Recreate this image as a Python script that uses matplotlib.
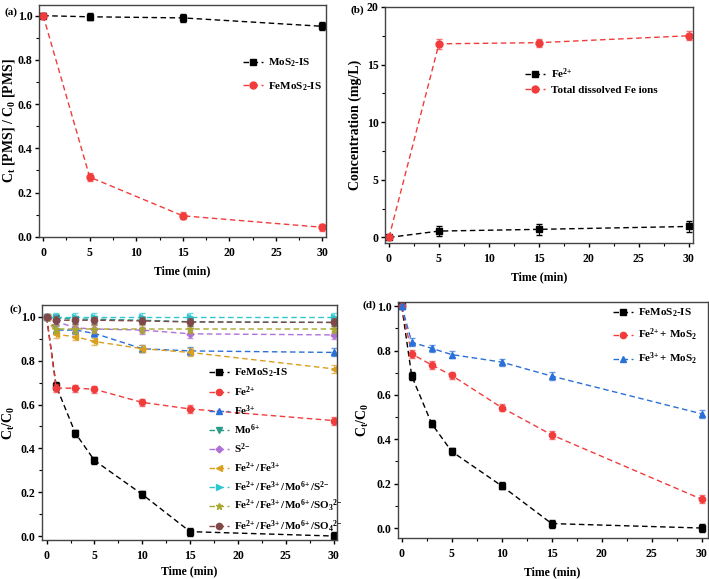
import matplotlib
matplotlib.use("Agg")
from matplotlib import pyplot as plt
from matplotlib.ticker import MultipleLocator

plt.rcParams['font.family'] = 'Liberation Serif'
plt.rcParams['font.weight'] = 'bold'
plt.rcParams['axes.labelweight'] = 'bold'
plt.rcParams['mathtext.fontset'] = 'custom'
plt.rcParams['mathtext.rm'] = 'Liberation Serif:bold'
plt.rcParams['mathtext.it'] = 'Liberation Serif:bold'
plt.rcParams['mathtext.bf'] = 'Liberation Serif:bold'
plt.rcParams['font.size'] = 10

# ---- data ----
t_a = [0, 5, 15, 30]
mos2_is = [1.0, 0.995, 0.99, 0.952]
mos2_is_err = [0.01, 0.015, 0.018, 0.018]
femos2_is_a = [1.0, 0.27, 0.095, 0.043]
femos2_is_a_err = [0.01, 0.018, 0.016, 0.016]

t_b = [0, 5, 15, 30]
fe2_conc = [0.0, 0.55, 0.7, 0.95]
fe2_conc_err = [0.1, 0.45, 0.5, 0.45]
fe_total = [0.0, 16.8, 16.9, 17.5]
fe_total_err = [0.1, 0.45, 0.35, 0.4]

t_c = [0, 1, 3, 5, 10, 15, 30]
c_femos2 = [1.0, 0.685, 0.47, 0.345, 0.19, 0.02, 0.0]
c_fe2 = [1.0, 0.675, 0.675, 0.67, 0.61, 0.58, 0.527]
c_fe3 = [1.0, 0.94, 0.94, 0.925, 0.855, 0.845, 0.838]
c_mo6 = [1.0, 0.995, 0.99, 0.99, 0.985, 0.978, 0.975]
c_s2 = [1.0, 0.98, 0.95, 0.945, 0.94, 0.923, 0.918]
c_fe23 = [1.0, 0.92, 0.91, 0.888, 0.855, 0.838, 0.763]
c_all_s2 = [1.0, 1.0, 1.0, 1.0, 1.0, 1.0, 1.0]
c_all_so3 = [1.0, 0.945, 0.945, 0.945, 0.945, 0.945, 0.945]
c_all_so4 = [1.0, 0.985, 0.985, 0.985, 0.982, 0.977, 0.975]

t_d = [0, 1, 3, 5, 10, 15, 30]
d_femos2 = [1.0, 0.685, 0.47, 0.345, 0.19, 0.02, 0.0]
d_fe2_mos2 = [1.0, 0.785, 0.735, 0.688, 0.543, 0.42, 0.13]
d_fe3_mos2 = [1.0, 0.838, 0.81, 0.782, 0.748, 0.685, 0.515]
d_err = [0.01, 0.018, 0.016, 0.016, 0.016, 0.018, 0.018]

BLACK = '#000000'
RED = '#f23c3c'
BLUE = '#2a70d8'
TEAL = '#2a9d8a'
VIOLET = '#b070d8'
ORANGE = '#d9a020'
CYAN = '#30c8d0'
OLIVE = '#a8a830'
BROWN = '#804848'

FE2 = r'Fe$^{2\!+}$'
FE3 = r'Fe$^{3\!+}$'
MO6 = r'Mo$^{6\!+}$'
S2 = r'S$^{2\!-}$'


def style_axes(ax, xlim, ylim, ymaj, ymin, xlab_y, ylab_x):
    ax.set_xlim(*xlim)
    ax.set_ylim(*ylim)
    ax.xaxis.set_major_locator(MultipleLocator(5))
    ax.xaxis.set_minor_locator(MultipleLocator(2.5))
    ax.yaxis.set_major_locator(MultipleLocator(ymaj))
    ax.yaxis.set_minor_locator(MultipleLocator(ymin))
    ax.tick_params(which='both', direction='out', top=False, right=False,
                   labelsize=8.5)
    ax.tick_params(axis='x', pad=4)
    ax.tick_params(axis='y', pad=1.5)
    ax.tick_params(which='major', length=3, width=1)
    ax.tick_params(which='minor', length=2, width=0.8)
    for s in ax.spines.values():
        s.set_linewidth(1.0)
        s.set_color('#444444')
    ax.set_xlabel('Time (min)', fontsize=8.5, fontweight='bold')
    ax.xaxis.set_label_coords(0.5, xlab_y)
    ax.yaxis.set_label_coords(ylab_x, 0.5)


def series(ax, x, y, err, color, marker, label, ms=5):
    ax.errorbar(x, y, yerr=err, fmt='none', capsize=2, elinewidth=0.8,
                ecolor=color, alpha=0.7 if color != BLACK else 1)
    ax.plot(x, y, color=color, marker=marker, ms=ms, ls='--', lw=1,
            dashes=(4, 2.5), label=label)


def legend(ax, x, y, spacing, size=8):
    ax.legend(frameon=False, loc='upper left', bbox_to_anchor=(x, y),
              borderpad=0, borderaxespad=0, handlelength=1.8,
              handletextpad=0.5, labelspacing=spacing, fontsize=size)


fig = plt.figure(figsize=(7.09, 5.79), dpi=100)

# (a)
ax = fig.add_axes([0.055, 0.591, 0.405, 0.401])
series(ax, t_a, mos2_is, mos2_is_err, BLACK, 's', 'MoS$_2$-IS', ms=4.5)
series(ax, t_a, femos2_is_a, femos2_is_a_err, RED, 'o', 'FeMoS$_2$-IS')
ax.set_ylabel('C$_t$ [PMS] / C$_0$ [PMS]', fontsize=10)
style_axes(ax, (-0.45, 30.4), (0, 1.05), 0.2, 0.1, -0.121, -0.078)
legend(ax, 0.71, 0.776, 1.0)
fig.text(0.007, 0.975, '(a)', fontsize=8, fontweight='bold')

# (b)
ax = fig.add_axes([0.543, 0.580, 0.434, 0.408])
series(ax, t_b, fe2_conc, fe2_conc_err, BLACK, 's', FE2, ms=4.5)
series(ax, t_b, fe_total, fe_total_err, RED, 'o', 'Total dissolved Fe ions')
ax.set_ylabel('Concentration (mg/L)', fontsize=10)
style_axes(ax, (-0.4, 30.4), (-0.5, 20), 5, 2.5, -0.119, -0.075)
legend(ax, 0.455, 0.75, 0.4)
fig.text(0.495, 0.978, '(b)', fontsize=8, fontweight='bold')

# (c)
ax = fig.add_axes([0.059, 0.0674, 0.417, 0.406])
series(ax, t_c, c_femos2, d_err, BLACK, 's', 'FeMoS$_2$-IS', ms=4)
series(ax, t_c, c_fe2, d_err, RED, 'o', FE2, ms=4.5)
series(ax, t_c, c_fe3, d_err, BLUE, '^', FE3, ms=4.5)
series(ax, t_c, c_mo6, d_err, TEAL, 'v', MO6, ms=4.5)
series(ax, t_c, c_s2, d_err, VIOLET, 'D', S2, ms=3.5)
series(ax, t_c, c_fe23, d_err, ORANGE, '<', FE2 + '/' + FE3, ms=4.5)
series(ax, t_c, c_all_s2, d_err, CYAN, '>', FE2 + '/' + FE3 + '/' + MO6 + '/' + S2, ms=4.5)
series(ax, t_c, c_all_so3, d_err, OLIVE, '*',
       FE2 + '/' + FE3 + '/' + MO6 + r'/SO$_3$$^{2\!-}$', ms=5)
series(ax, t_c, c_all_so4, d_err, BROWN, 'o',
       FE2 + '/' + FE3 + '/' + MO6 + r'/SO$_4$$^{2\!-}$', ms=4.5)
ax.set_ylabel('C$_t$/C$_0$', fontsize=10)
style_axes(ax, (-0.5, 30.4), (-0.018, 1.055), 0.2, 0.1, -0.108, -0.085)
legend(ax, 0.565, 0.736, 0.4)
fig.text(0.013, 0.462, '(c)', fontsize=8, fontweight='bold')

# (d)
ax = fig.add_axes([0.561, 0.0708, 0.437, 0.408])
series(ax, t_d, d_femos2, d_err, BLACK, 's', 'FeMoS$_2$-IS', ms=4)
series(ax, t_d, d_fe2_mos2, d_err, RED, 'o', FE2 + '+ MoS$_2$', ms=4.5)
series(ax, t_d, d_fe3_mos2, d_err, BLUE, '^', FE3 + '+ MoS$_2$', ms=4.5)
ax.set_ylabel('C$_t$/C$_0$', fontsize=10)
style_axes(ax, (-0.4, 30.6), (-0.045, 1.02), 0.2, 0.1, -0.12, -0.087)
legend(ax, 0.694, 0.979, 0.7)
fig.text(0.511, 0.468, '(d)', fontsize=8, fontweight='bold')

fig.savefig('out.png', dpi=100)
